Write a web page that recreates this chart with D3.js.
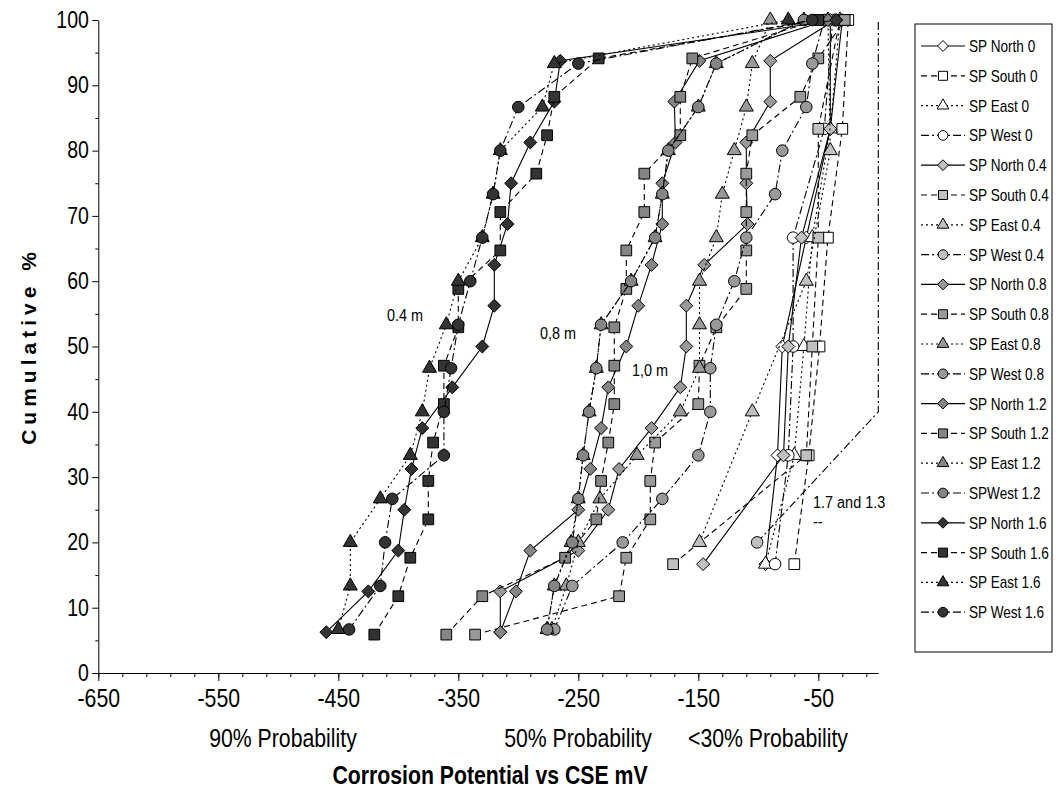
<!DOCTYPE html>
<html>
<head>
<meta charset="utf-8">
<script src="https://cdn.jsdelivr.net/npm/d3@7"></script>
<style>
  body { margin: 0; background: #fff; }
  svg { font-family: "Liberation Sans", Arial, sans-serif; }
</style>
</head>
<body>
<div id="vis-holder"></div>
<script>
// Canvas
const width = 1064;
const height = 798;
const plot = { left: 98.3, right: 878.3, top: 20, bottom: 673 };
const narrow = 0.85;   // the original uses a condensed face

// Cumulative % levels (y values) by number of readings
const cum5  = [20, 40, 60, 80, 100];
const cum6  = [16.67, 33.33, 50, 66.67, 83.33, 100];
const cum15 = [6.67, 13.33, 20, 26.67, 33.33, 40, 46.67, 53.33, 60, 66.67, 73.33, 80, 86.67, 93.33, 100];
const cum16 = [6.25, 12.5, 18.75, 25, 31.25, 37.5, 43.75, 50, 56.25, 62.5, 68.75, 75, 81.25, 87.5, 93.75, 100];
const cum17 = [5.88, 11.76, 17.65, 23.53, 29.41, 35.29, 41.18, 47.06, 52.94, 58.82, 64.71, 70.59, 76.47, 82.35, 88.24, 94.12, 100];

// Potentials (mV vs CSE), one array per series
const north0  = [-94, -84, -80, -60, -40, -30];
const south0  = [-70, -58, -49, -42, -30, -25];
const east0   = [-94, -70, -62, -55, -40, -32];
const west0   = [-86, -75, -71, -71, -45, -38];
const north04 = [-146, -79, -75, -64, -40, -40];
const south04 = [-171, -60, -55, -50, -50, -32];
const east04  = [-149, -105, -60, -40, -42];
const west04  = [-101, 30, 30, 30, 30];
const north08 = [-315, -315, -250, -225, -216, -189, -165, -160, -160, -145, -109, -110, -110, -90, -90, -36];
const south08 = [-336, -216, -210, -190, -190, -186, -150, -149, -135, -110, -110, -110, -110, -105, -65, -50, -28];
const east08  = [-272, -260, -250, -232, -201, -165, -149, -149, -149, -135, -130, -120, -110, -105, -90];
const west08  = [-270, -255, -213, -180, -150, -140, -140, -135, -120, -110, -86, -80, -60, -55, -45];
const north12 = [-315, -302, -290, -250, -240, -231, -225, -210, -200, -189, -180, -180, -169, -170, -149, -42];
const south12 = [-360, -330, -261, -235, -231, -225, -220, -220, -220, -210, -210, -195, -195, -165, -165, -155, -50];
const east12  = [-276, -270, -256, -250, -246, -241, -235, -231, -206, -186, -180, -175, -150, -135, -62];
const west12  = [-276, -270, -255, -250, -246, -241, -235, -231, -206, -186, -180, -175, -150, -135, -62];
const north16 = [-460, -425, -400, -395, -389, -380, -355, -330, -320, -320, -309, -306, -290, -270, -265, -35];
const south16 = [-420, -400, -390, -375, -375, -371, -362, -362, -350, -350, -315, -315, -285, -276, -270, -233, -50];
const east16  = [-450, -440, -440, -415, -390, -380, -374, -360, -350, -330, -321, -315, -280, -270, -75];
const west16  = [-441, -415, -411, -405, -362, -362, -356, -350, -340, -330, -321, -315, -300, -250, -55];

// Tick labels
const xTicks = [-650, -550, -450, -350, -250, -150, -50];
const yTicks = [0, 10, 20, 30, 40, 50, 60, 70, 80, 90, 100];

// Excel style diamond (a square turned 45 degrees)
const diamond = {
  draw(ctx, size) {
    const r = Math.sqrt(size / 2);
    ctx.moveTo(0, -r); ctx.lineTo(r, 0); ctx.lineTo(0, r); ctx.lineTo(-r, 0); ctx.closePath();
  }
};

// Styles per direction / depth
const dirStyle = {
  North: { dash: null,      shape: diamond,           size: 84 },
  South: { dash: "6,4",     shape: d3.symbolSquare,   size: 115 },
  East:  { dash: "2,3",     shape: d3.symbolTriangle, size: 85 },
  West:  { dash: "8,3,2,3", shape: d3.symbolCircle,   size: 105 }
};
const depthFill = { "0": "#ffffff", "0.4": "#c0c0c0", "0.8": "#999999", "1.2": "#858585", "1.6": "#333333" };

const series = [
  { name: "SP North 0",   dir: "North", depth: "0",   x: north0,  y: cum6 },
  { name: "SP South 0",   dir: "South", depth: "0",   x: south0,  y: cum6 },
  { name: "SP East 0",    dir: "East",  depth: "0",   x: east0,   y: cum6 },
  { name: "SP West 0",    dir: "West",  depth: "0",   x: west0,   y: cum6 },
  { name: "SP North 0.4", dir: "North", depth: "0.4", x: north04, y: cum6 },
  { name: "SP South 0.4", dir: "South", depth: "0.4", x: south04, y: cum6 },
  { name: "SP East 0.4",  dir: "East",  depth: "0.4", x: east04,  y: cum5 },
  { name: "SP West 0.4",  dir: "West",  depth: "0.4", x: west04,  y: cum5 },
  { name: "SP North 0.8", dir: "North", depth: "0.8", x: north08, y: cum16 },
  { name: "SP South 0.8", dir: "South", depth: "0.8", x: south08, y: cum17 },
  { name: "SP East 0.8",  dir: "East",  depth: "0.8", x: east08,  y: cum15 },
  { name: "SP West 0.8",  dir: "West",  depth: "0.8", x: west08,  y: cum15 },
  { name: "SP North 1.2", dir: "North", depth: "1.2", x: north12, y: cum16 },
  { name: "SP South 1.2", dir: "South", depth: "1.2", x: south12, y: cum17 },
  { name: "SP East 1.2",  dir: "East",  depth: "1.2", x: east12,  y: cum15 },
  { name: "SPWest 1.2",   dir: "West",  depth: "1.2", x: west12,  y: cum15 },
  { name: "SP North 1.6", dir: "North", depth: "1.6", x: north16, y: cum16 },
  { name: "SP South 1.6", dir: "South", depth: "1.6", x: south16, y: cum17 },
  { name: "SP East 1.6",  dir: "East",  depth: "1.6", x: east16,  y: cum15 },
  { name: "SP West 1.6",  dir: "West",  depth: "1.6", x: west16,  y: cum15 }
];

const svg = d3.select("#vis-holder")
  .append("svg")
  .attr("width", width)
  .attr("height", height);

// Scales
const x = d3.scaleLinear().domain([-650, 0]).range([plot.left, plot.right]);
const xLine = x.copy().clamp(true);   // out of range points squashed to the edge
const y = d3.scaleLinear().domain([0, 100]).range([plot.bottom, plot.top]);

// Axes
const xMinor = d3.range(-650, 0, 20);
svg.append("g")
  .attr("transform", `translate(0,${plot.bottom})`)
  .call(d3.axisBottom(x).tickValues(xMinor).tickSize(4).tickFormat(""))
  .call(g => g.select(".domain").remove());
svg.append("g")
  .attr("transform", `translate(0,${plot.bottom})`)
  .call(d3.axisBottom(x).tickValues(xTicks).tickSize(8).tickSizeOuter(0).tickPadding(8)
          .tickFormat(d => String(d)))
  .call(g => g.selectAll("text")
              .attr("font-size", 25).attr("fill", "#000")
              .attr("transform", `scale(${narrow},1)`));

const yMinor = d3.range(5, 100, 10);
svg.append("g")
  .attr("transform", `translate(${plot.left},0)`)
  .call(d3.axisLeft(y).tickValues(yMinor).tickSize(3).tickFormat(""))
  .call(g => g.select(".domain").remove());
svg.append("g")
  .attr("transform", `translate(${plot.left},0)`)
  .call(d3.axisLeft(y).tickValues(yTicks).tickSize(6).tickSizeOuter(0).tickPadding(5))
  .call(g => g.selectAll("text")
              .attr("font-size", 23).attr("fill", "#000")
              .attr("transform", `scale(${narrow},1)`));

// Series
const line = d3.line()
  .x(d => xLine(d[0]))
  .y(d => y(d[1]));

series.forEach(s => {
  const pts = s.x.map((v, i) => [v, s.y[i]]);
  const st = dirStyle[s.dir];
  svg.append("path")
    .datum(pts)
    .attr("d", line)
    .attr("fill", "none")
    .attr("stroke", "#000")
    .attr("stroke-width", 1.1)
    .attr("stroke-dasharray", st.dash);
  svg.append("g").selectAll("path")
    .data(pts.filter(p => p[0] <= 0))
    .join("path")
      .attr("transform", d => `translate(${x(d[0])},${y(d[1])})`)
      .attr("d", d3.symbol(st.shape, st.size))
      .attr("fill", depthFill[s.depth])
      .attr("stroke", "#000")
      .attr("stroke-width", 1);
});

// Annotations
const notes = [
  { t: "0.4 m", x: 387, y: 321 },
  { t: "0,8 m", x: 540, y: 339 },
  { t: "1,0 m", x: 632, y: 376 },
  { t: "1.7 and 1.3", x: 813, y: 508 },
  { t: "--", x: 813, y: 527 }
];
svg.append("g").selectAll("text")
  .data(notes)
  .join("text")
    .attr("transform", d => `translate(${d.x},${d.y}) scale(${narrow},1)`)
    .attr("font-size", 17)
    .text(d => d.t);

// Probability labels
const probs = [
  { t: "90% Probability", x: 283 },
  { t: "50% Probability", x: 578 },
  { t: "<30% Probability", x: 768 }
];
svg.append("g").selectAll("text")
  .data(probs)
  .join("text")
    .attr("transform", d => `translate(${d.x},747) scale(${narrow},1)`)
    .attr("text-anchor", "middle")
    .attr("font-size", 25)
    .text(d => d.t);

// Axis titles
svg.append("text")
  .attr("transform", `translate(490,784) scale(${narrow},1)`)
  .attr("text-anchor", "middle")
  .attr("font-size", 25)
  .attr("font-weight", "bold")
  .text("Corrosion Potential vs CSE mV");

svg.append("text")
  .attr("transform", "translate(36,346) rotate(-90)")
  .attr("text-anchor", "middle")
  .attr("font-size", 21)
  .attr("font-weight", "bold")
  .attr("letter-spacing", 5)
  .text("Cumulative %");

// Legend
const leg = svg.append("g").attr("transform", "translate(915,24)");
leg.append("rect")
  .attr("width", 137).attr("height", 628)
  .attr("fill", "#fff").attr("stroke", "#000");
series.forEach((s, i) => {
  const st = dirStyle[s.dir];
  const row = leg.append("g").attr("transform", `translate(0,${22 + i * 29.8})`);
  row.append("line")
    .attr("x1", 6).attr("x2", 50)
    .attr("stroke", "#000").attr("stroke-width", 1.2)
    .attr("stroke-dasharray", st.dash);
  row.append("path")
    .attr("transform", "translate(28,0)")
    .attr("d", d3.symbol(st.shape, st.size * 0.7))
    .attr("fill", depthFill[s.depth])
    .attr("stroke", "#000");
  row.append("text")
    .attr("transform", `translate(54,6) scale(${narrow},1)`)
    .attr("font-size", 16)
    .text(s.name);
});
</script>
</body>
</html>
